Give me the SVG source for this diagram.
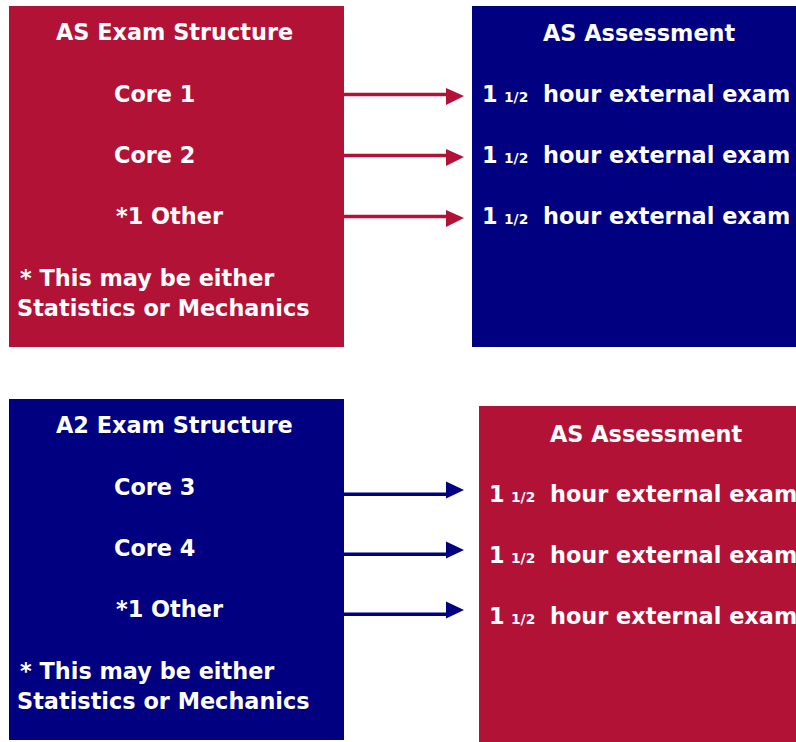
<svg xmlns="http://www.w3.org/2000/svg" width="796" height="742" viewBox="0 0 796 742">
<style>
.red{fill:#B31237}
.blue{fill:#000080}
text{font-family:"DejaVu Sans",Verdana,sans-serif;font-weight:bold;font-size:22.4px;fill:#ffffff}
.sm{font-size:13.8px}
.lr{stroke:#B31237;stroke-width:3.5;fill:none}
.lb{stroke:#000080;stroke-width:3.5;fill:none}
</style>
<rect width="796" height="742" fill="#ffffff"/>
<g id="as-structure">
<rect class="red" x="9" y="6" width="335" height="341"/>
<text x="56" y="40">AS Exam Structure</text>
<text x="114" y="101.5">Core 1</text>
<text x="114" y="163">Core 2</text>
<text x="116" y="224">*1 Other</text>
<text x="20" y="286">* This may be either</text>
<text x="17" y="315.5">Statistics or Mechanics</text>
</g>
<g id="as-assessment">
<rect class="blue" x="472" y="6" width="324" height="341"/>
<text x="543" y="41">AS Assessment</text>
<text y="101.5"><tspan x="482">1</tspan><tspan class="sm" x="504">1/2</tspan><tspan x="543">hour external exam</tspan></text>
<text y="163"><tspan x="482">1</tspan><tspan class="sm" x="504">1/2</tspan><tspan x="543">hour external exam</tspan></text>
<text y="224"><tspan x="482">1</tspan><tspan class="sm" x="504">1/2</tspan><tspan x="543">hour external exam</tspan></text>
</g>
<g id="a2-structure">
<rect class="blue" x="9" y="399" width="335" height="341"/>
<text x="56" y="433">A2 Exam Structure</text>
<text x="114" y="494.5">Core 3</text>
<text x="114" y="556">Core 4</text>
<text x="116" y="617">*1 Other</text>
<text x="20" y="679">* This may be either</text>
<text x="17" y="708.5">Statistics or Mechanics</text>
</g>
<g id="a2-assessment">
<rect class="red" x="479" y="406" width="317" height="336"/>
<text x="550" y="441.5">AS Assessment</text>
<text y="501.5"><tspan x="489">1</tspan><tspan class="sm" x="511">1/2</tspan><tspan x="550">hour external exam</tspan></text>
<text y="563"><tspan x="489">1</tspan><tspan class="sm" x="511">1/2</tspan><tspan x="550">hour external exam</tspan></text>
<text y="624"><tspan x="489">1</tspan><tspan class="sm" x="511">1/2</tspan><tspan x="550">hour external exam</tspan></text>
</g>
<g id="connectors">
<line class="lr" x1="344" y1="94.5" x2="448" y2="94.5"/>
<polygon class="red" points="446,88 464,96 446,105"/>
<line class="lr" x1="344" y1="155.5" x2="448" y2="155.5"/>
<polygon class="red" points="446,149 464,157 446,166"/>
<line class="lr" x1="344" y1="216.5" x2="448" y2="216.5"/>
<polygon class="red" points="446,210 464,218 446,227"/>
<line class="lb" x1="344" y1="494.3" x2="448" y2="494.3"/>
<polygon class="blue" points="446,481.5 464,490 446,498.5"/>
<line class="lb" x1="344" y1="554.3" x2="448" y2="554.3"/>
<polygon class="blue" points="446,541.5 464,550 446,558.5"/>
<line class="lb" x1="344" y1="614.3" x2="448" y2="614.3"/>
<polygon class="blue" points="446,601.5 464,610 446,618.5"/>
</g>
</svg>
